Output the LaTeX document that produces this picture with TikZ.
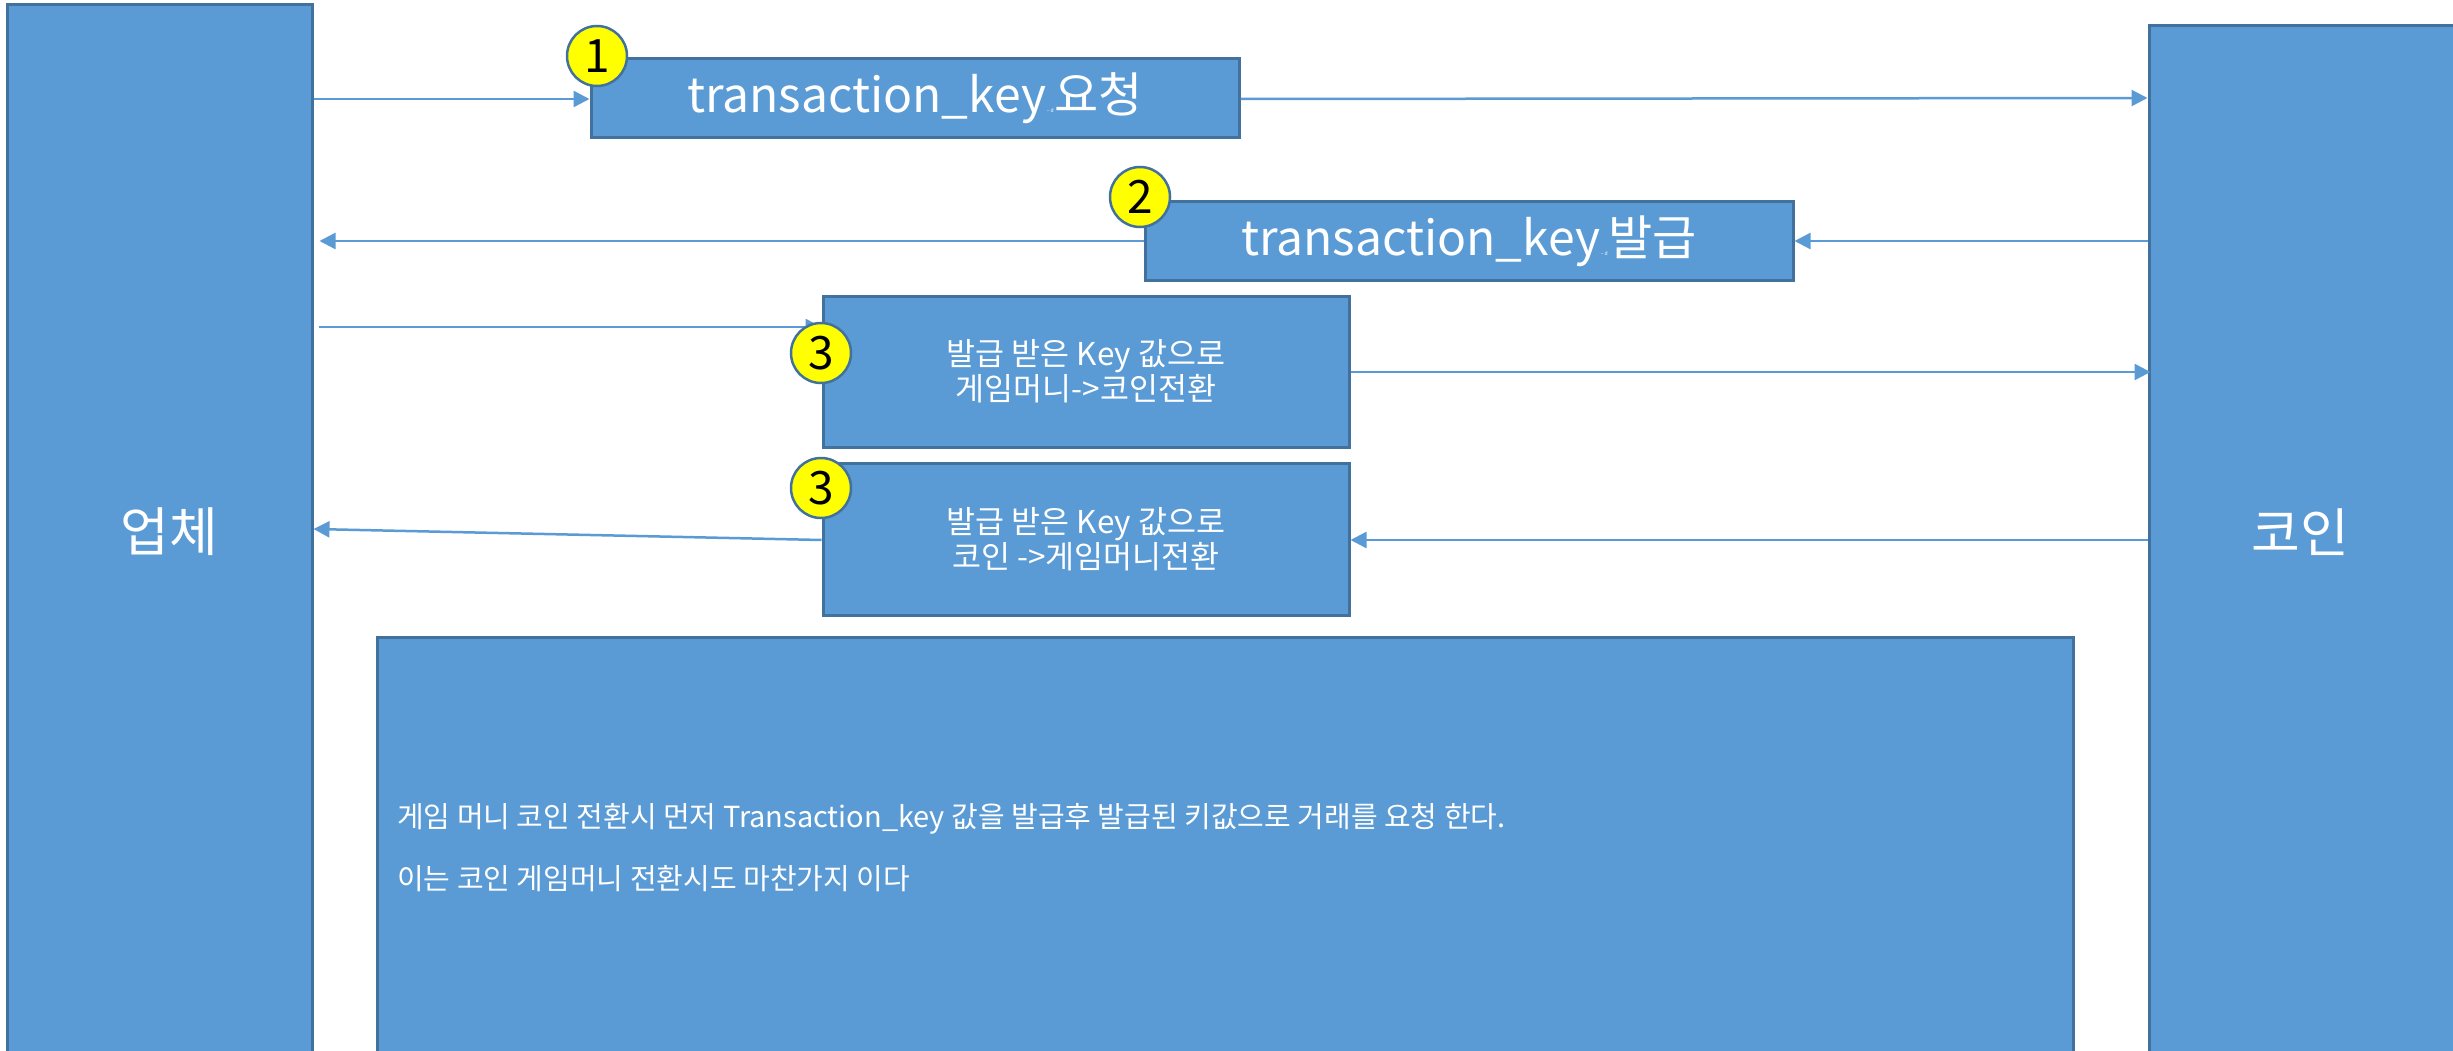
\documentclass[tikz,border=0pt]{standalone}
\usepackage{fontspec}
\setmainfont{Noto Sans CJK KR}
\usetikzlibrary{arrows.meta}
\definecolor{boxfill}{HTML}{5B9BD5}
\definecolor{boxline}{HTML}{41719C}
\definecolor{arrowc}{HTML}{5B9BD5}
\definecolor{numfill}{HTML}{FFFF00}
\begin{document}
\begin{tikzpicture}[x=1pt,y=-1pt,
  blockbox/.style={draw=boxline, line width=3pt, fill=boxfill, rectangle, inner sep=0pt, text=white},
  numcirc/.style={draw=boxline, line width=2.5pt, fill=numfill, circle, inner sep=0pt, minimum size=60pt, text=black, font=\fontsize{46pt}{50pt}\selectfont},
  conn/.style={draw=arrowc, line width=2.5pt},
  arr/.style={conn, -{Triangle[length=16pt,width=16pt]}},
  bigtxt/.style={text=white, font=\fontsize{53pt}{60pt}\selectfont, inner sep=0pt},
  midtxt/.style={text=white, font=\fontsize{48pt}{58pt}\selectfont},
  smalltxt/.style={text=white, align=center, font=\fontsize{31.5pt}{35pt}\selectfont},
  notetxt/.style={text=white, inner sep=0pt, font=\fontsize{29pt}{32pt}\selectfont}
]
\clip (0,0) rectangle (2453,1051);
\fill[white] (0,0) rectangle (2453,1051);

% side boxes
\node[blockbox, minimum width=305pt, minimum height=1055pt] (ub) at (159.5,532.5) {};
\node[blockbox, minimum width=321pt, minimum height=1034pt] (rb) at (2309.5,543) {};
\node[bigtxt] (ubt) at (169,532) {업체};
\node[bigtxt] (rbt) at (2300,532) {코인};

% message boxes
\node[blockbox, minimum width=648pt, minimum height=79pt] (b1) at (915,98.5) {};
\node[midtxt] (b1t) at (b1.center) {transaction\_key{\fontsize{5pt}{5pt}\selectfont\,-- d\,}요청};
\node[blockbox, minimum width=648pt, minimum height=78pt] (b2) at (1469,241) {};
\node[midtxt] (b2t) at (b2.center) {transaction\_key{\fontsize{5pt}{5pt}\selectfont\,-- d\,}발급};
\node[blockbox, minimum width=526pt, minimum height=151pt] (b3a) at (1086,371.5) {};
\node[smalltxt] (b3at) at (b3a.center) {발급 받은 Key 값으로\\ 게임머니->코인전환};
\node[blockbox, minimum width=526pt, minimum height=152pt] (b3b) at (1086,539) {};
\node[smalltxt] (b3bt) at (b3b.center) {발급 받은 Key 값으로\\ 코인 ->게임머니전환};

% bottom note box
\node[blockbox, minimum width=1696pt, minimum height=423pt] (nb) at (1225,848.5) {};
\node[notetxt, anchor=base west] (n1) at (397,827) {게임 머니 코인 전환시 먼저 Transaction\_key 값을 발급후 발급된 키값으로 거래를 요청 한다.};
\node[notetxt, anchor=base west] (n2) at (397,889) {이는 코인 게임머니 전환시도 마찬가지 이다};

% connectors
\draw[arr] (ub.east |- 0,99) -- (b1.west |- 0,99);
\draw[arr] (b1.east |- 0,99) -- (rb.west |- 0,98);
\draw[arr] (rb.west |- 0,241) -- (b2.east |- 0,241);
\draw[arr, shorten >=6pt] (b2.west |- 0,241) -- (ub.east |- 0,241);
\draw[arr, shorten <=5pt] (ub.east |- 0,327) -- (b3a.west |- 0,327);
\draw[arr, shorten >=-3pt] (b3a.east |- 0,372) -- (rb.west |- 0,372);
\draw[arr] (rb.west |- 0,540) -- (b3b.east |- 0,540);
\draw[arr] (b3b.west |- 0,540) -- (ub.east |- 0,529);

% number badges
\node[numcirc] (c1) at (597,56) {1};
\node[numcirc] (c2) at (1140,197) {2};
\node[numcirc] (c3a) at (821,353) {3};
\node[numcirc] (c3b) at (821,488) {3};
\end{tikzpicture}
\end{document}
